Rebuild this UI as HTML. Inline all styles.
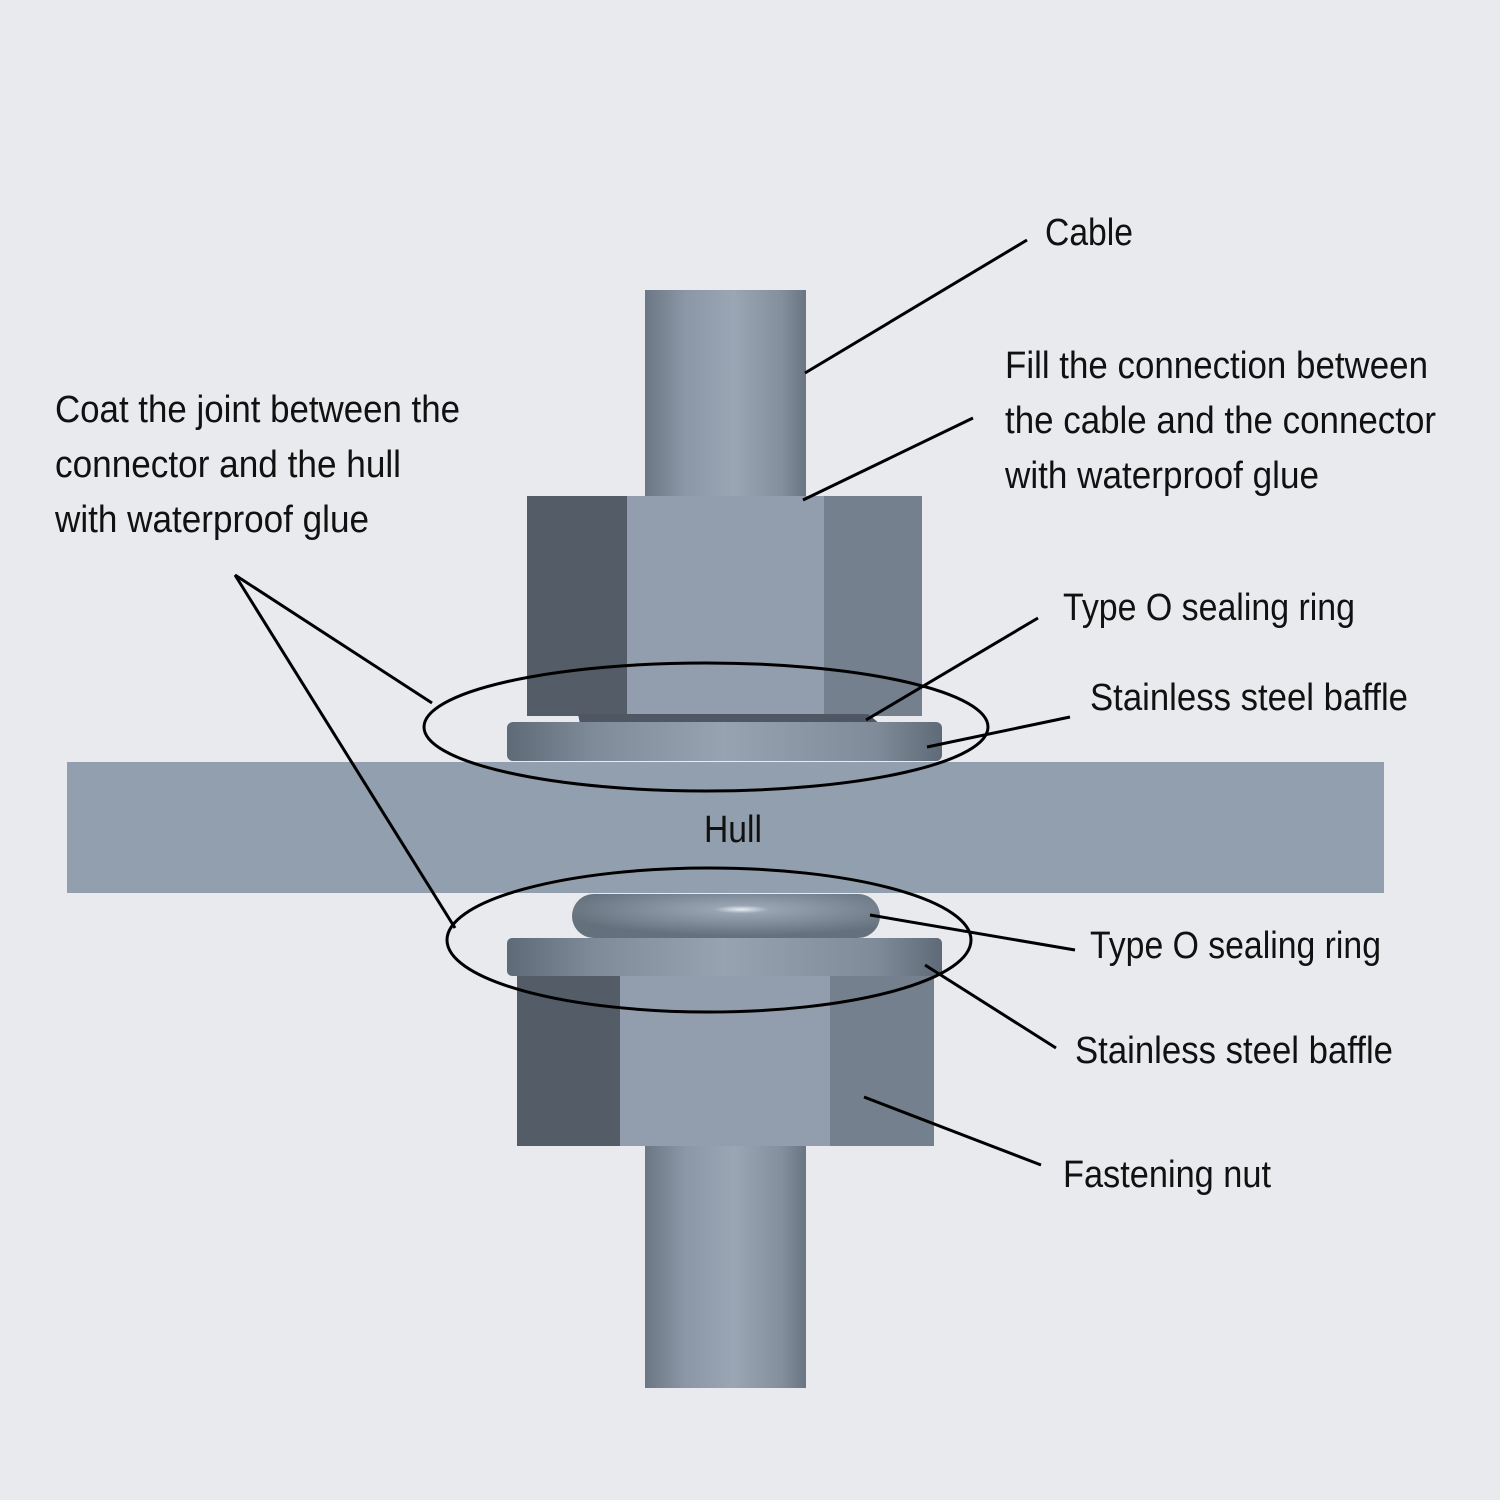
<!DOCTYPE html>
<html><head><meta charset="utf-8"><style>
html,body{margin:0;padding:0;background:#e9eaee;}
svg{display:block}
text{font-family:"Liberation Sans Narrow","Liberation Sans",sans-serif;font-size:38px;fill:#111;}
</style></head><body>
<svg width="1500" height="1500" viewBox="0 0 1500 1500" xmlns="http://www.w3.org/2000/svg">
<defs>
<linearGradient id="cyl" x1="0" x2="1" y1="0" y2="0">
<stop offset="0" stop-color="#6c7785"/><stop offset="0.25" stop-color="#8b97a6"/><stop offset="0.55" stop-color="#9aa6b4"/><stop offset="0.85" stop-color="#838f9d"/><stop offset="1" stop-color="#6a7583"/>
</linearGradient>
<linearGradient id="wash" x1="0" x2="1" y1="0" y2="0">
<stop offset="0" stop-color="#5f6a77"/><stop offset="0.2" stop-color="#7f8b99"/><stop offset="0.5" stop-color="#97a3b1"/><stop offset="0.85" stop-color="#7f8b99"/><stop offset="1" stop-color="#5f6a77"/>
</linearGradient>
<radialGradient id="ring" cx="0.55" cy="0.35" r="0.6">
<stop offset="0" stop-color="#e8eef5"/><stop offset="0.15" stop-color="#98a4b2"/><stop offset="1" stop-color="#65707d"/>
</radialGradient>
</defs>
<rect width="1500" height="1500" fill="#e9eaee"/>
<!-- cables -->
<rect x="645" y="290" width="161" height="210" fill="url(#cyl)"/>
<rect x="645" y="1140" width="161" height="248" fill="url(#cyl)"/>
<!-- upper nut -->
<rect x="527" y="496" width="100" height="220" fill="#535c67"/>
<rect x="627" y="496" width="197" height="220" fill="#929eae"/>
<rect x="824" y="496" width="98" height="220" fill="#75808e"/>
<!-- upper flat ring -->
<polygon points="578,714 868,714 880,724 580,724" fill="#4e5763"/>
<!-- upper washer -->
<rect x="507" y="722" width="435" height="39" rx="6" fill="url(#wash)"/>
<!-- hull -->
<rect x="67" y="762" width="1317" height="131" fill="#929fae"/>
<!-- lower nut -->
<rect x="517" y="976" width="103" height="170" fill="#535c67"/>
<rect x="620" y="976" width="210" height="170" fill="#929eae"/>
<rect x="830" y="976" width="104" height="170" fill="#75808e"/>
<!-- lower washer -->
<rect x="507" y="938" width="435" height="38" rx="5" fill="url(#wash)"/>
<!-- lower O ring -->
<rect x="572" y="894" width="308" height="44" rx="22" fill="url(#ring)"/>
<!-- ellipses -->
<ellipse cx="706" cy="727" rx="282" ry="64" fill="none" stroke="#000" stroke-width="3"/>
<ellipse cx="709" cy="940" rx="262" ry="72" fill="none" stroke="#000" stroke-width="3"/>
<!-- leader lines -->
<g stroke="#000" stroke-width="3" fill="none">
<line x1="805" y1="373" x2="1027" y2="240"/>
<line x1="803" y1="500" x2="973" y2="418"/>
<line x1="235" y1="575" x2="432" y2="703"/>
<line x1="235" y1="575" x2="455" y2="928"/>
<line x1="866" y1="720" x2="1038" y2="618"/>
<line x1="927" y1="747" x2="1070" y2="717"/>
<line x1="870" y1="915" x2="1075" y2="950"/>
<line x1="925" y1="965" x2="1056" y2="1048"/>
<line x1="864" y1="1097" x2="1041" y2="1165"/>
</g>
<!-- text -->
<text x="55" y="422" textLength="405" lengthAdjust="spacingAndGlyphs">Coat the joint between the</text>
<text x="55" y="477" textLength="346" lengthAdjust="spacingAndGlyphs">connector and the hull</text>
<text x="55" y="532" textLength="314" lengthAdjust="spacingAndGlyphs">with waterproof glue</text>
<text x="1045" y="245" textLength="88" lengthAdjust="spacingAndGlyphs">Cable</text>
<text x="1005" y="378" textLength="423" lengthAdjust="spacingAndGlyphs">Fill the connection between</text>
<text x="1005" y="433" textLength="431" lengthAdjust="spacingAndGlyphs">the cable and the connector</text>
<text x="1005" y="488" textLength="314" lengthAdjust="spacingAndGlyphs">with waterproof glue</text>
<text x="1063" y="620" textLength="292" lengthAdjust="spacingAndGlyphs">Type O sealing ring</text>
<text x="1090" y="710" textLength="318" lengthAdjust="spacingAndGlyphs">Stainless steel baffle</text>
<text x="704" y="842" textLength="58" lengthAdjust="spacingAndGlyphs">Hull</text>
<text x="1090" y="958" textLength="291" lengthAdjust="spacingAndGlyphs">Type O sealing ring</text>
<text x="1075" y="1063" textLength="318" lengthAdjust="spacingAndGlyphs">Stainless steel baffle</text>
<text x="1063" y="1187" textLength="208" lengthAdjust="spacingAndGlyphs">Fastening nut</text>
</svg>
</body></html>
